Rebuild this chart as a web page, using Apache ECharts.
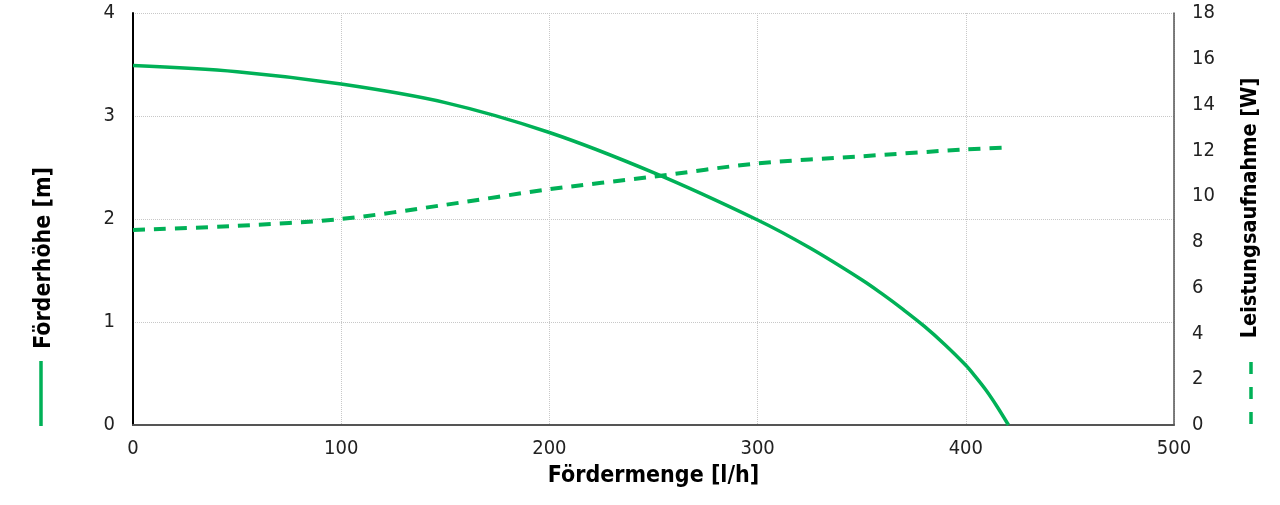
<!DOCTYPE html>
<html>
<head>
<meta charset="utf-8">
<script src="https://cdn.jsdelivr.net/npm/echarts@6/dist/echarts.min.js"></script>
<style>
  html, body { margin: 0; padding: 0; background: #fff; }
  #main { width: 1280px; height: 505px; }
</style>
</head>
<body>
<div id="main"></div>
<script>
// Förderhöhe (Kennlinie, durchgezogen)
var flowHead = [0, 50, 100, 150, 200, 250, 300, 325, 350, 360, 370, 380, 390, 400, 405, 410, 415, 420.5];
var headValues = [3.49, 3.43, 3.31, 3.13, 2.84, 2.45, 1.99, 1.72, 1.41, 1.27, 1.12, 0.96, 0.78, 0.58, 0.46, 0.33, 0.18, 0];

// Leistungsaufnahme (gestrichelt)
var flowPower = [0, 50, 100, 150, 200, 250, 300, 350, 400, 421];
var powerValues = [8.52, 8.7, 9.0, 9.62, 10.3, 10.85, 11.43, 11.74, 12.04, 12.12];

var xTicks = [0, 100, 200, 300, 400, 500];
var headTicks = [0, 1, 2, 3, 4];
var powerTicks = [0, 2, 4, 6, 8, 10, 12, 14, 16, 18];

var green = '#00b157';
var font = "'Liberation Sans Narrow', 'DejaVu Sans Condensed', 'Arial Narrow', sans-serif";

var myChart = echarts.init(document.getElementById('main'));

var option = {
  animation: false,
  grid: { left: 133, right: 106, top: 13, bottom: 80 },
  xAxis: {
    type: 'value',
    min: xTicks[0],
    max: xTicks[xTicks.length - 1],
    interval: 100,
    name: 'Fördermenge [l/h]',
    nameLocation: 'middle',
    nameGap: 40,
    nameTextStyle: { fontFamily: font, fontWeight: 'bold', fontSize: 23, color: '#000' },
    axisLine: { lineStyle: { color: '#555', width: 2 } },
    axisTick: { show: false },
    axisLabel: { fontFamily: font, fontSize: 20, color: '#222', margin: 14 },
    splitLine: { show: true, lineStyle: { color: '#c8c8c8', type: 'dotted', width: 1 } }
  },
  yAxis: [
    {
      type: 'value',
      min: headTicks[0],
      max: headTicks[headTicks.length - 1],
      interval: 1,
      axisLine: { show: true, lineStyle: { color: '#000', width: 2 } },
      axisTick: { show: false },
      axisLabel: { fontFamily: font, fontSize: 20, color: '#222', margin: 18 },
      splitLine: { show: true, lineStyle: { color: '#c8c8c8', type: 'dotted', width: 1 } }
    },
    {
      type: 'value',
      position: 'right',
      min: powerTicks[0],
      max: powerTicks[powerTicks.length - 1],
      interval: 2,
      axisLine: { show: true, lineStyle: { color: '#555', width: 1.5 } },
      axisTick: { show: false },
      axisLabel: { fontFamily: font, fontSize: 20, color: '#222', margin: 18 },
      splitLine: { show: false }
    }
  ],
  series: [
    {
      name: 'Förderhöhe',
      type: 'line',
      yAxisIndex: 0,
      data: flowHead.map(function (x, i) { return [x, headValues[i]]; }),
      smooth: 0.35,
      showSymbol: false,
      lineStyle: { color: green, width: 3.5 }
    },
    {
      name: 'Leistungsaufnahme',
      type: 'line',
      yAxisIndex: 1,
      data: flowPower.map(function (x, i) { return [x, powerValues[i]]; }),
      smooth: 0.3,
      showSymbol: false,
      lineStyle: { color: green, width: 4, type: [12, 9] }
    }
  ],
  graphic: [
    {
      type: 'text', x: 44, y: 258, rotation: Math.PI / 2,
      style: { text: 'Förderhöhe [m]', font: 'bold 23px ' + font, fill: '#000', textAlign: 'center', textVerticalAlign: 'middle' }
    },
    {
      type: 'line',
      shape: { x1: 41, y1: 361, x2: 41, y2: 426 },
      style: { stroke: green, lineWidth: 3.5 }
    },
    {
      type: 'text', x: 1250, y: 208, rotation: Math.PI / 2,
      style: { text: 'Leistungsaufnahme [W]', font: 'bold 21.5px ' + font, fill: '#000', textAlign: 'center', textVerticalAlign: 'middle' }
    },
    {
      type: 'line',
      shape: { x1: 1251, y1: 362, x2: 1251, y2: 427 },
      style: { stroke: green, lineWidth: 3.5, lineDash: [12, 13] }
    }
  ]
};

option && myChart.setOption(option);
</script>
</body>
</html>
